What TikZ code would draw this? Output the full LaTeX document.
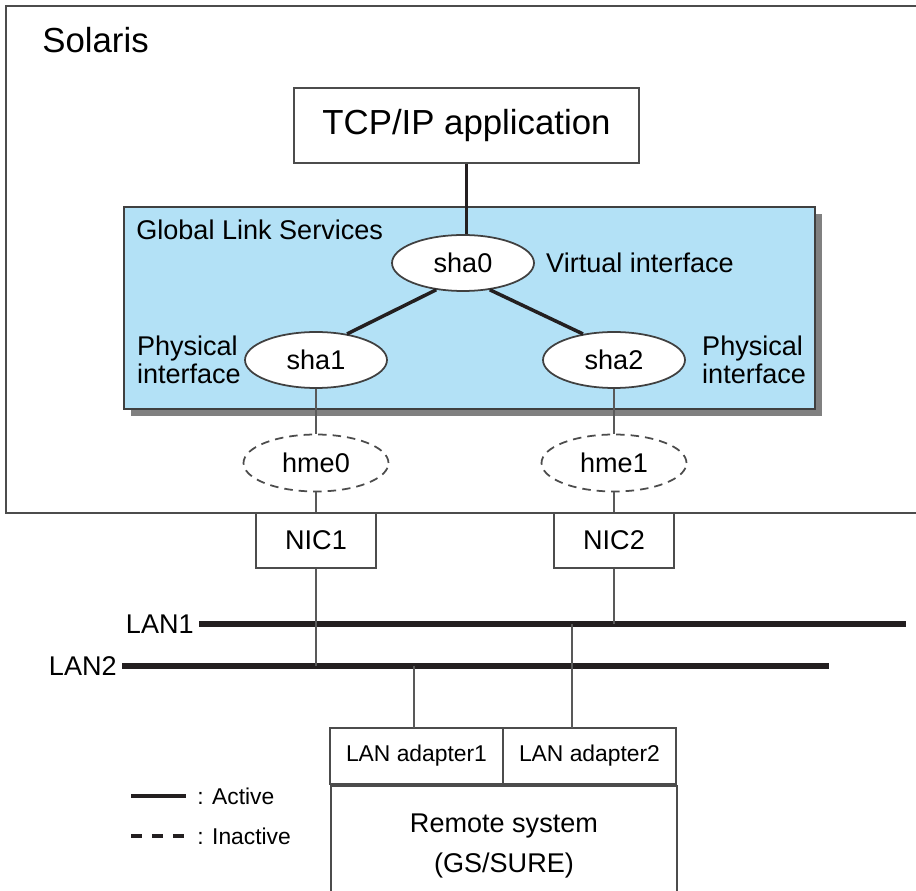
\documentclass[tikz,border=0pt]{standalone}
\usepackage{fontspec}
\setmainfont{Liberation Sans}
\usetikzlibrary{shapes.geometric, positioning, shadows}

\definecolor{glsblue}{RGB}{179,225,246}
\definecolor{ink}{RGB}{35,31,32}
\newcommand{\fbig}{\fontsize{19.8}{23}\selectfont}
\newcommand{\fmid}{\fontsize{15.4}{15.6}\selectfont}
\newcommand{\fsml}{\fontsize{13}{15}\selectfont}

\tikzset{
  box/.style={draw=black!70, line width=1.1pt, fill=white, inner sep=0pt},
  iface/.style={ellipse, draw=black!75, line width=1pt, fill=white, minimum width=2.84cm, minimum height=1.12cm, inner sep=0pt, font=\fmid},
  idle/.style={ellipse, draw=black!70, line width=1pt, dash pattern=on 0.17cm off 0.12cm, minimum width=2.9cm, minimum height=1.14cm, inner sep=0pt, font=\fmid},
  active/.style={line width=2pt, draw=ink},
  wire/.style={line width=1.1pt, draw=black!65},
  lan/.style={line width=2.9pt, draw=ink},
  lbl/.style={inner sep=0pt, font=\fmid}
}

\begin{document}
\begin{tikzpicture}[x=0.02cm, y=-0.02cm]
    \useasboundingbox (0,0) rectangle (916,891);

    % Solaris host
    \draw[box] (6,6) rectangle (920,513);
    \node[lbl, anchor=west, font=\fbig] (solaris) at (42,40) {Solaris};
    \node[box, minimum width=6.9cm, minimum height=1.5cm, font=\fbig] (tcp) at (466.5,125.5) {TCP/IP application};

    % Global Link Services
    \node[draw=black!75, line width=1.1pt, fill=glsblue, minimum width=13.82cm, minimum height=4.04cm,
          drop shadow={shadow xshift=0.14cm, shadow yshift=-0.14cm, fill=black!50, opacity=1}] (gls) at (469.5,308) {};
    \node[lbl, anchor=west] (glslbl) at (136,230) {Global Link Services};

    \node[iface] (sha0) at (463,263) {sha0};
    \node[iface] (sha1) at (316,360) {sha1};
    \node[iface] (sha2) at (614,360) {sha2};
    \node[lbl, right=0.22cm of sha0] (virt) {Virtual interface};
    \node[lbl, left=0.06cm of sha1, align=left] (phys1) {Physical\\interface};
    \node[lbl, right=0.32cm of sha2, align=left] (phys2) {Physical\\interface};

    \node[idle] (hme0) at (316,463) {hme0};
    \node[idle] (hme1) at (614,463) {hme1};

    \node[box, minimum width=2.4cm, minimum height=1.1cm, font=\fmid] (nic1) at (316,540.5) {NIC1};
    \node[box, minimum width=2.4cm, minimum height=1.1cm, font=\fmid] (nic2) at (614,540.5) {NIC2};

    % LANs
    \node[lbl, anchor=east] (lan1) at (194,624) {LAN1};
    \node[lbl, anchor=east] (lan2) at (117,666) {LAN2};
    \coordinate (lan1end) at (906,624);
    \coordinate (lan2end) at (829,666);
    \draw[lan] ([xshift=0.1cm]lan1.east) -- (lan1end);
    \draw[lan] ([xshift=0.1cm]lan2.east) -- (lan2end);

    % remote system
    \node[box, minimum width=3.46cm, minimum height=1.12cm, font=\fsml] (ad1) at (416.5,756) {LAN adapter1};
    \node[box, minimum width=3.46cm, minimum height=1.12cm, font=\fsml] (ad2) at (589.5,756) {LAN adapter2};
    \node[box, minimum width=6.92cm, minimum height=2.4cm, font=\fmid, align=center, anchor=north] (remote) at (ad1.south east) {Remote system\\[0.25cm](GS/SURE)};
    \coordinate (ad1top) at (414,728);
    \coordinate (ad2top) at (572,728);

    % connections
    \draw[active] (tcp.south) -- (tcp.south |- sha0.north);
    \draw[active] (sha0.225) -- (sha1.40);
    \draw[active] (sha0.315) -- (sha2.140);
    \draw[wire] (sha1.south) -- (hme0.north);
    \draw[wire] (sha2.south) -- (hme1.north);
    \draw[wire] (hme0.south) -- (nic1.north);
    \draw[wire] (hme1.south) -- (nic2.north);
    \draw[wire] (nic1.south) -- (nic1 |- lan2end);
    \draw[wire] (nic2.south) -- (nic2 |- lan1end);
    \draw[wire] (ad1top) -- (ad1top |- lan2end);
    \draw[wire] (ad2top) -- (ad2top |- lan1end);

    % legend
    \coordinate (actA) at (131,796);
    \coordinate (actB) at (186,796);
    \coordinate (inaA) at (131,836);
    \coordinate (inaB) at (186,836);
    \draw[active, line width=2.3pt] (actA) -- (actB);
    \draw[active, line width=2.3pt, dash pattern=on 0.22cm off 0.2cm] (inaA) -- (inaB);
    \node[lbl, font=\fsml, anchor=west, right=0.22cm of actB] (actlbl) {: Active};
    \node[lbl, font=\fsml, anchor=west, right=0.22cm of inaB] (inalbl) {: Inactive};
\end{tikzpicture}
\end{document}
